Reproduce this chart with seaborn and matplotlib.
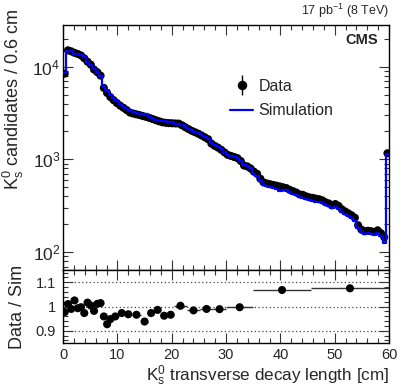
import numpy as np
import pandas as pd
import matplotlib
matplotlib.use("Agg")
import matplotlib.pyplot as plt
import seaborn as sns
from matplotlib.lines import Line2D
from matplotlib.legend_handler import HandlerTuple
from matplotlib.ticker import MultipleLocator, LogLocator, NullFormatter, FuncFormatter

# --- data ---
# 100 bins of 0.6 cm from 0 to 60 cm
bin_edges = np.linspace(0, 60, 101)

data_counts = [
    8400, 15000, 14600, 14100, 13700, 13200, 12300, 11300, 10500, 9300,
    8700, 8000, 5900, 5200, 4700, 4350, 4050, 3800, 3600, 3400,
    3200, 3120, 3060, 3000, 2930, 2870, 2800, 2720, 2640, 2570,
    2510, 2480, 2460, 2450, 2440, 2430, 2330, 2220, 2120, 2030,
    1960, 1890, 1810, 1730, 1650, 1480, 1400, 1340, 1270, 1190,
    1120, 1090, 1060, 1030, 960, 860, 840, 800, 740, 700,
    620, 565, 550, 540, 530, 520, 510, 500, 490, 470,
    455, 440, 420, 415, 400, 390, 385, 378, 372, 362,
    345, 335, 320, 330, 315, 290, 275, 262, 250, 235,
    195, 175, 168, 170, 168, 165, 172, 160, 145, 1165,
]

sim_counts = [
    8600, 14850, 14750, 13750, 13800, 13240, 12640, 11120, 10460, 9470,
    8600, 7890, 6150, 5610, 4960, 4540, 4220, 3900, 3700, 3510,
    3300, 3230, 3170, 3100, 3120, 3060, 2880, 2800, 2680, 2610,
    2610, 2580, 2550, 2540, 2430, 2420, 2320, 2210, 2150, 2060,
    1990, 1920, 1830, 1750, 1670, 1500, 1420, 1350, 1280, 1200,
    1120, 1090, 1050, 1030, 960, 870, 840, 800, 690, 655,
    580, 530, 515, 505, 495, 485, 455, 470, 470, 440,
    425, 410, 395, 385, 375, 365, 360, 350, 345, 335,
    320, 312, 300, 305, 290, 270, 255, 245, 232, 218,
    180, 165, 155, 160, 155, 152, 160, 148, 125, 1150,
]

# ratio panel: variable-width bins
ratio_lo = [0.0, 0.6, 1.2, 1.8, 2.4, 3.0, 3.6, 4.2, 4.8, 5.4, 6.0, 6.6,
            7.2, 7.8, 8.4, 9.0, 10.2, 11.4, 12.6, 14.4, 15.6, 16.8, 18.0,
            19.2, 20.4, 22.8, 25.2, 27.6, 30.0, 35.0, 45.6]
ratio_hi = [0.6, 1.2, 1.8, 2.4, 3.0, 3.6, 4.2, 4.8, 5.4, 6.0, 6.6, 7.2,
            7.8, 8.4, 9.0, 10.2, 11.4, 12.6, 14.4, 15.6, 16.8, 18.0, 19.2,
            20.4, 22.8, 25.2, 27.6, 30.0, 35.0, 45.6, 60.0]
ratio_vals = [0.977, 1.010, 0.990, 1.025, 0.993, 0.997, 0.973, 1.016, 1.004,
              0.982, 1.011, 1.014, 0.959, 0.927, 0.948, 0.959, 0.973, 0.968,
              0.966, 0.938, 0.973, 0.986, 0.962, 0.966, 1.003, 0.984, 0.990,
              0.989, 0.997, 1.068, 1.075]

# --- style ---
sns.set_theme(style="ticks")
plt.rcParams["font.family"] = ["Liberation Sans", "DejaVu Sans"]
plt.rcParams["mathtext.fontset"] = "custom"
plt.rcParams["mathtext.rm"] = "Liberation Sans"
plt.rcParams["mathtext.it"] = "Liberation Sans:italic"
plt.rcParams["mathtext.bf"] = "Liberation Sans:bold"

centers = (bin_edges[:-1] + bin_edges[1:]) / 2
df = pd.DataFrame({"x": centers, "data": data_counts, "sim": sim_counts})

rlo = np.array(ratio_lo)
rhi = np.array(ratio_hi)
rdf = pd.DataFrame({"x": (rlo + rhi) / 2, "ratio": ratio_vals})

fig = plt.figure(figsize=(4.07, 3.87), dpi=100)
ax = fig.add_axes([0.155, 0.302, 0.801, 0.633])
rax = fig.add_axes([0.155, 0.114, 0.801, 0.188], sharex=ax)

# main panel
ax.errorbar(df["x"], df["data"], yerr=np.sqrt(df["data"]), fmt="none",
            ecolor="black", elinewidth=1, zorder=2)
sns.scatterplot(data=df, x="x", y="data", color="black", s=34,
                edgecolor="none", ax=ax, zorder=3)
sns.histplot(data=df, x="x", weights="sim", binwidth=0.6, binrange=(0, 60),
             element="step", fill=False, color="#0000ff", linewidth=1.6,
             ax=ax, zorder=4)
ax.set_yscale("log")
ax.set_xlim(0, 60)
ax.set_ylim(64, 28000)

# ratio panel
for yv in [0.9, 1.0, 1.1]:
    rax.axhline(yv, color="#444444", ls=(0, (1, 2)), lw=0.9, zorder=1)
rax.errorbar(rdf["x"], rdf["ratio"], xerr=(rhi - rlo) / 2, fmt="none",
             ecolor="#333333", elinewidth=1, zorder=2)
sns.scatterplot(data=rdf, x="x", y="ratio", color="black", s=34,
                edgecolor="none", ax=rax, zorder=3)
rax.set_ylim(0.85, 1.15)

# ticks, ROOT-like
for a in (ax, rax):
    a.tick_params(which="both", direction="in", top=True, right=True,
                  labelsize=10.5, width=0.8, color="#333333")
    a.tick_params(which="major", length=7)
    a.tick_params(which="minor", length=3.5)
    for sp in a.spines.values():
        sp.set_linewidth(1)
        sp.set_color("black")
    a.xaxis.set_major_locator(MultipleLocator(10))
    a.xaxis.set_minor_locator(MultipleLocator(2))

ax.yaxis.set_major_locator(LogLocator(base=10))
ax.yaxis.set_minor_locator(LogLocator(base=10, subs=np.arange(2, 10)))
ax.yaxis.set_minor_formatter(NullFormatter())
ax.tick_params(axis="x", labelbottom=False)
ax.tick_params(axis="y", pad=2, labelsize=12.5)

rax.yaxis.set_major_locator(MultipleLocator(0.1))
rax.yaxis.set_minor_locator(MultipleLocator(0.02))
rax.yaxis.set_major_formatter(FuncFormatter(lambda v, p: f"{v:g}"))
rax.tick_params(axis="y", pad=5)
rax.tick_params(axis="x", pad=4)

# labels
ax.set_xlabel("")
ax.set_ylabel(r"$\mathrm{K^0_s}$ candidates / 0.6 cm", fontsize=13, loc="top")
ax.yaxis.set_label_coords(-0.115, 1.07)
rax.set_ylabel("Data / Sim", fontsize=13)
rax.yaxis.set_label_coords(-0.115, 0.5)
rax.set_xlabel(r"$\mathrm{K^0_s}$ transverse decay length [cm]", fontsize=12.3,
               loc="right", labelpad=1)

ax.text(1.0, 1.02, r"17 pb$^{-1}$ (8 TeV)", transform=ax.transAxes,
        ha="right", va="bottom", fontsize=9)
ax.text(0.966, 0.94, "CMS", transform=ax.transAxes, ha="right", va="center",
        fontsize=10.5, fontweight="bold")

# legend
h_mark = Line2D([], [], marker="o", color="black", ls="none", ms=5.8)
h_bar = Line2D([], [], marker="|", color="black", ls="none", ms=14, mew=1)
h_sim = Line2D([], [], color="#0000ff", lw=1.6)
ax.legend(handles=[(h_bar, h_mark), h_sim], labels=["Data", "Simulation"],
          handler_map={tuple: HandlerTuple(ndivide=1)}, frameon=False,
          loc="upper left", bbox_to_anchor=(0.512, 0.78), fontsize=11.5,
          handlelength=1.45, handletextpad=0.35, labelspacing=0.58,
          borderpad=0, borderaxespad=0)

fig.savefig("out.png", dpi=100)
